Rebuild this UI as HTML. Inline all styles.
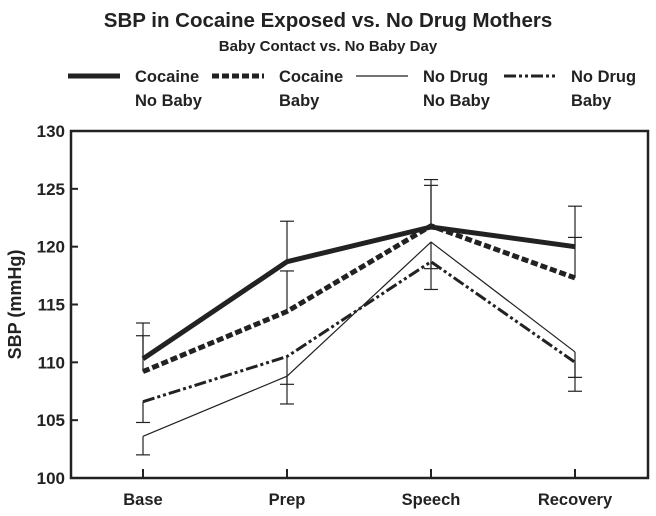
<!DOCTYPE html>
<html><head><meta charset="utf-8"><style>
body{margin:0;background:#fff;font-family:"Liberation Sans",Arial,sans-serif;}
svg{display:block}
text{fill:#222;font-weight:bold}
</style></head><body>
<svg id="c" width="656" height="516" xmlns="http://www.w3.org/2000/svg">
<text x="328" y="27" text-anchor="middle" font-size="20.5">SBP in Cocaine Exposed vs. No Drug Mothers</text>
<text x="328" y="51" text-anchor="middle" font-size="15">Baby Contact vs. No Baby Day</text>
<g id="legend"></g>
<g id="plot"></g>
</svg>
<script>
const categories=["Base","Prep","Speech","Recovery"];
const cocaineNoBaby=[110.3,118.7,121.7,120.0];
const cocaineBaby=[109.2,114.4,121.8,117.3];
const noDrugNoBaby=[103.6,108.8,120.4,110.9];
const noDrugBaby=[106.6,110.5,118.7,110.0];
const errCocaineNoBaby=[113.4,122.2,125.8,123.5];
const errCocaineBaby=[112.3,117.9,125.3,120.8];
const errNoDrugNoBaby=[102.0,106.4,116.3,108.7];
const errNoDrugBaby=[104.8,108.1,118.1,107.5];
const yTicks=[100,105,110,115,120,125,130];
const seriesNames=["Cocaine|No Baby","Cocaine|Baby","No Drug|No Baby","No Drug|Baby"];

const NS="http://www.w3.org/2000/svg";
const L=71,R=648,T=131,B=478;
const xs=i=>143+i*144;
const ys=v=>B-(v-100)/30*(B-T);
const plot=document.getElementById('plot');
const leg=document.getElementById('legend');
function mk(tag,attrs,parent){const e=document.createElementNS(NS,tag);for(const k in attrs)e.setAttribute(k,attrs[k]);parent.appendChild(e);return e;}

const frame=mk('rect',{x:L,y:T,width:R-L,height:B-T,fill:'none',stroke:'#222','stroke-width':2.5},plot);


yTicks.forEach(v=>{
  const t=mk('line',{x1:L,x2:L+7,y1:ys(v),y2:ys(v),stroke:'#222','stroke-width':2},plot);
  
  
  const tx=mk('text',{x:L-6,y:ys(v)+6,'text-anchor':'end','font-size':17},plot);
  tx.textContent=v;
  
  
});
categories.forEach((c,i)=>{
  const t=mk('line',{x1:xs(i),x2:xs(i),y1:B,y2:B-9,stroke:'#222','stroke-width':2},plot);
  
  
  const tx=mk('text',{x:xs(i),y:B+27,'text-anchor':'middle','font-size':16.5},plot);
  tx.textContent=c;
  
  
});
const yt=mk('text',{x:0,y:0,'text-anchor':'middle','font-size':18,transform:`translate(21,${(T+B)/2}) rotate(-90)`},plot);
yt.textContent="SBP (mmHg)";



const styles=[{w:5,d:''},{w:5,d:'7,3'},{w:1.2,d:''},{w:3,d:'12,3,3,3,3,3'}];
const series=[cocaineNoBaby,cocaineBaby,noDrugNoBaby,noDrugBaby];
const errs=[errCocaineNoBaby,errCocaineBaby,errNoDrugNoBaby,errNoDrugBaby];
series.forEach((s,k)=>{
  s.forEach((v,i)=>{
    const e=errs[k][i];
    const l=mk('line',{x1:xs(i),x2:xs(i),y1:ys(v),y2:ys(e),stroke:'#222','stroke-width':1.2},plot);
    
    
    const c=mk('line',{x1:xs(i)-7,x2:xs(i)+7,y1:ys(e),y2:ys(e),stroke:'#222','stroke-width':1.2},plot);
    
    
  });
});
series.forEach((s,k)=>{
  const p=mk('polyline',{points:s.map((v,i)=>xs(i)+','+ys(v)).join(' '),fill:'none',stroke:'#222','stroke-width':styles[k].w,'stroke-dasharray':styles[k].d},plot);
  
  
});
const lx=[68,212,356,504];
seriesNames.forEach((n,k)=>{
  const g=mk('g',{},leg);
  
  
  mk('line',{x1:lx[k],x2:lx[k]+52,y1:76,y2:76,stroke:'#222','stroke-width':styles[k].w,'stroke-dasharray':styles[k].d},g);
  const parts=n.split('|');
  const t1=mk('text',{x:lx[k]+67,y:82,'font-size':16.5},g);t1.textContent=parts[0];
  const t2=mk('text',{x:lx[k]+67,y:106,'font-size':16.5},g);t2.textContent=parts[1];
});
</script>
</body></html>
